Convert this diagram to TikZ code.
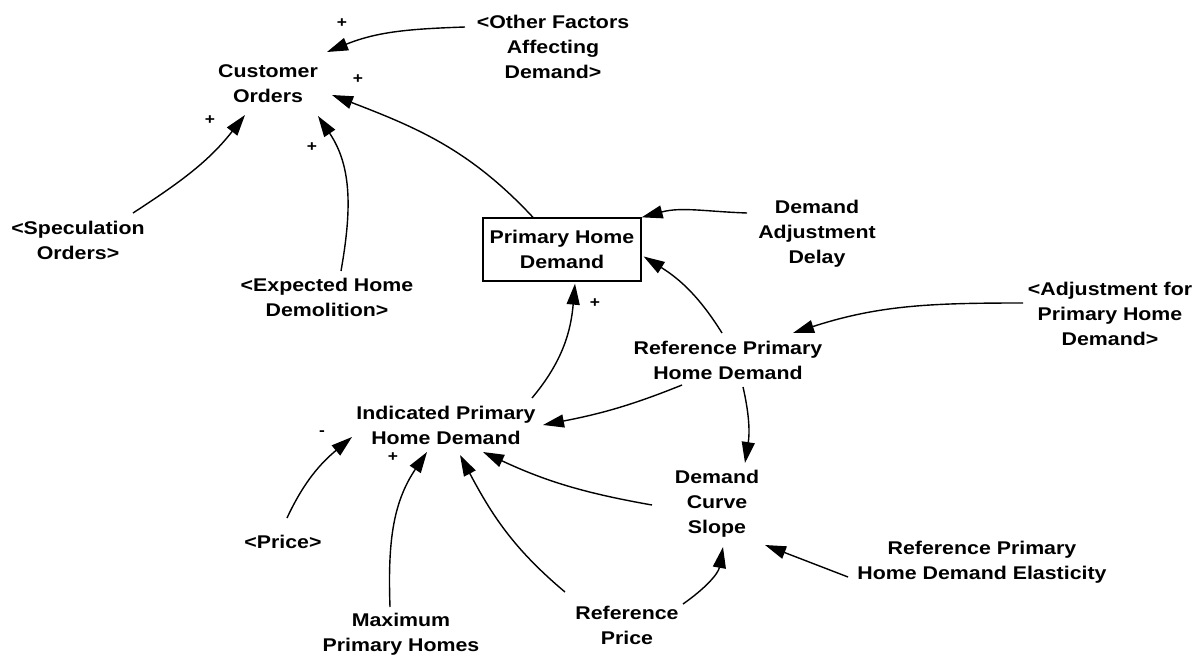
\documentclass[tikz,border=0pt]{standalone}
\usepackage{fontspec}
\setmainfont{Liberation Sans}[BoldFont={Liberation Sans Bold}]
\newfontfamily\diagfont{Liberation Sans Bold}[FakeStretch=1.16]
\usetikzlibrary{arrows.meta}
\tikzset{
  var/.style={align=center, inner sep=0pt, font=\diagfont\fontsize{18.4}{25}\selectfont, text=black},
  stock/.style={draw, line width=1.3pt, minimum width=158pt, minimum height=63pt, inner sep=0pt,
     align=center, font=\diagfont\fontsize{18.4}{25}\selectfont},
  link/.style={line width=1.4pt, -{Triangle[length=21pt,width=13pt]}},
  pol/.style={inner sep=0pt, font=\diagfont\fontsize{15}{15}\selectfont}
}
\begin{document}
\begin{tikzpicture}[x=1pt,y=1pt]
\useasboundingbox (0,0) rectangle (1196,-660);
% nodes
\node[var] (CO) at (268,-84) {Customer\\Orders};
\node[var] (OF) at (553,-47) {<Other Factors\\Affecting\\Demand>};
\node[var] (SO) at (78,-240) {<Speculation\\Orders>};
\node[var] (EHD) at (327,-297) {<Expected Home\\Demolition>};
\node[stock] (PHD) at (562,-249.5) {Primary Home\\Demand};
\node[var] (DAD) at (817,-234) {Demand\\Adjustment\\Delay};
\node[var] (AfPHD) at (1110,-314) {<Adjustment for\\Primary Home\\Demand>};
\node[var] (RPHD) at (728,-360) {Reference Primary\\Home Demand};
\node[var] (IPHD) at (446,-425) {Indicated Primary\\Home Demand};
\node[var] (DCS) at (717,-504) {Demand\\Curve\\Slope};
\node[var] (Price) at (283,-542) {<Price>};
\node[var] (MPH) at (401,-634) {Maximum\\Primary Homes};
\node[var] (RP) at (627,-625) {Reference\\Price};
\node[var] (RPHDE) at (982,-562) {Reference Primary\\Home Demand Elasticity};
% connectors
\draw[link] ([shift={(-88,20)}]OF.center) to[out=182,in=22] ([shift={(59,32)}]CO.center);
\draw[link] ([shift={(-29,0)}]PHD.north) to[out=133,in=-21] ([shift={(64,-11)}]CO.center);
\draw[link] ([shift={(55,27)}]SO.center) to[out=33,in=-128] ([shift={(-23,-31)}]CO.center);
\draw[link] ([shift={(14,26)}]EHD.center) to[out=80,in=-56] ([shift={(50,-32)}]CO.center);
\draw[link] ([shift={(-70,21)}]DAD.center) to[out=178,in=15] (PHD.north east);
\draw[link] ([shift={(-6,27)}]RPHD.center) to[out=122,in=-32] ([shift={(2,-7)}]PHD.east);
\draw[link] ([shift={(-87,11)}]AfPHD.center) to[out=180,in=18] ([shift={(65,27)}]RPHD.center);
\draw[link] ([shift={(-46,-25)}]RPHD.center) to[out=202,in=11] ([shift={(97,0)}]IPHD.center);
\draw[link] ([shift={(86,27)}]IPHD.center) to[out=50,in=-95] ([shift={(13,-2)}]PHD.south);
\draw[link] ([shift={(15,-27)}]RPHD.center) to[out=-77,in=81] ([shift={(28,41)}]DCS.center);
\draw[link] ([shift={(-65,-1)}]DCS.center) to[out=170,in=-25] ([shift={(37,-27)}]IPHD.center);
\draw[link] ([shift={(-62,33)}]RP.center) to[out=140,in=-62] ([shift={(14,-30)}]IPHD.center);
\draw[link] ([shift={(-11,27)}]MPH.center) to[out=92,in=-124] ([shift={(-19,-27)}]IPHD.center);
\draw[link] ([shift={(4,24)}]Price.center) to[out=65,in=-140] ([shift={(-94,-12)}]IPHD.center);
\draw[link] ([shift={(56,21)}]RP.center) to[out=35,in=-100] ([shift={(6,-43)}]DCS.center);
\draw[link] ([shift={(-134,-15)}]RPHDE.center) -- ([shift={(48,-41)}]DCS.center);
% polarities
\node[pol] (p1) at (342,-23) {+};
\node[pol] (p2) at (358,-79) {+};
\node[pol] (p3) at (210,-120) {+};
\node[pol] (p4) at (312,-147) {+};
\node[pol] (p5) at (595,-303) {+};
\node[pol] (p6) at (322,-433) {-};
\node[pol] (p7) at (393,-457) {+};
\end{tikzpicture}
\end{document}
